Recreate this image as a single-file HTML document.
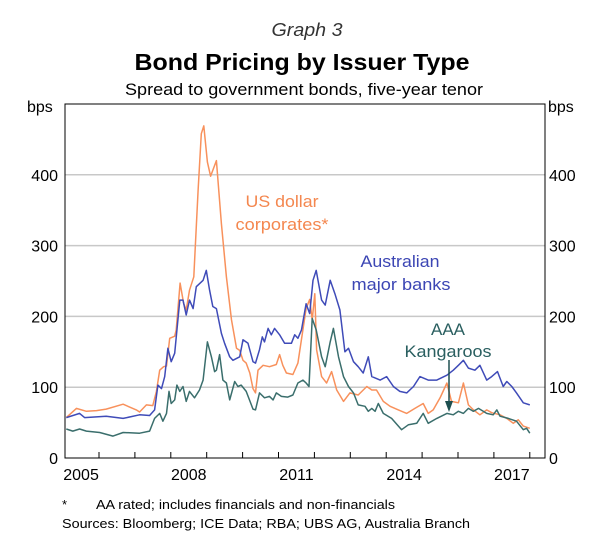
<!DOCTYPE html>
<html><head><meta charset="utf-8">
<style>
html,body{margin:0;padding:0;background:#fff;}
body{width:612px;height:554px;overflow:hidden;font-family:"Liberation Sans",Arial,sans-serif;}
</style></head>
<body>
<svg id="chart" width="612" height="554" xmlns="http://www.w3.org/2000/svg" font-family="Liberation Sans, Arial, sans-serif">
<text x="307" y="36" text-anchor="middle" font-size="18" font-style="italic" fill="#333" textLength="71" lengthAdjust="spacingAndGlyphs">Graph 3</text>
<text x="302" y="70" text-anchor="middle" font-size="23" font-weight="bold" fill="#000" textLength="335" lengthAdjust="spacingAndGlyphs">Bond Pricing by Issuer Type</text>
<text x="304" y="95" text-anchor="middle" font-size="17" fill="#000" textLength="358" lengthAdjust="spacingAndGlyphs">Spread to government bonds, five-year tenor</text>
<g id="grid"></g>
<g id="series"></g>
<rect x="65" y="104" width="480" height="354" fill="none" stroke="#000" stroke-width="1"/>
<g id="axes"></g>
<text x="27" y="112" font-size="16">bps</text>
<text x="548" y="112" font-size="16">bps</text>
<text x="282" y="207" text-anchor="middle" font-size="17" fill="#f4874f" textLength="73" lengthAdjust="spacingAndGlyphs">US dollar</text>
<text x="282" y="230" text-anchor="middle" font-size="17" fill="#f4874f" textLength="93" lengthAdjust="spacingAndGlyphs">corporates*</text>
<text x="400" y="267" text-anchor="middle" font-size="17" fill="#3c46b4" textLength="79" lengthAdjust="spacingAndGlyphs">Australian</text>
<text x="401" y="290" text-anchor="middle" font-size="17" fill="#3c46b4" textLength="99" lengthAdjust="spacingAndGlyphs">major banks</text>
<text x="448" y="335" text-anchor="middle" font-size="17" fill="#2a5f60" textLength="34" lengthAdjust="spacingAndGlyphs">AAA</text>
<text x="448" y="357" text-anchor="middle" font-size="17" fill="#2a5f60" textLength="87" lengthAdjust="spacingAndGlyphs">Kangaroos</text>
<line x1="449" y1="360" x2="449" y2="403" stroke="#1d4f50" stroke-width="1.5"/>
<polygon points="445,401 453,401 449,412" fill="#1d4f50"/>
<text x="62" y="509" font-size="13">*</text>
<text x="96" y="509" font-size="13" textLength="299" lengthAdjust="spacingAndGlyphs">AA rated; includes financials and non-financials</text>
<text x="62" y="528" font-size="13" textLength="408" lengthAdjust="spacingAndGlyphs">Sources:   Bloomberg; ICE Data; RBA; UBS AG, Australia Branch</text>
</svg>
<script>
const yTicks=[0,100,200,300,400];
const yearLabels=[2005,2008,2011,2014,2017];
const usdT=[2005.09,2005.37,2005.65,2005.93,2006.20,2006.67,2007.04,2007.13,2007.32,2007.50,2007.60,2007.69,2007.80,2007.88,2007.97,2008.11,2008.15,2008.26,2008.36,2008.43,2008.52,2008.64,2008.76,2008.85,2008.92,2009.02,2009.11,2009.27,2009.41,2009.55,2009.69,2009.83,2009.92,2010.01,2010.10,2010.20,2010.29,2010.36,2010.43,2010.57,2010.75,2010.94,2011.03,2011.12,2011.22,2011.40,2011.54,2011.77,2011.87,2011.94,2012.01,2012.06,2012.20,2012.34,2012.48,2012.62,2012.81,2012.99,2013.22,2013.46,2013.60,2013.73,2013.92,2014.11,2014.34,2014.57,2014.80,2015.03,2015.17,2015.31,2015.50,2015.69,2015.82,2016.01,2016.15,2016.29,2016.43,2016.61,2016.80,2016.94,2017.17,2017.36,2017.54,2017.68,2017.82,2018.00];
const usdV=[57,70,66,67,69,76,68,65,75,74,94,124,129,130,169,172,181,247,218,209,237,256,378,458,469,418,398,420,331,256,195,155,152,138,134,120,98,92,124,131,129,132,146,131,120,118,134,211,224,195,232,153,115,106,122,96,80,92,89,101,96,96,80,73,68,63,70,77,63,68,85,106,80,78,106,75,68,61,68,64,61,56,49,54,45,42];
const bankT=[2005.09,2005.46,2005.60,2006.20,2006.67,2007.13,2007.41,2007.55,2007.64,2007.74,2007.83,2007.92,2008.01,2008.11,2008.25,2008.34,2008.43,2008.52,2008.62,2008.71,2008.90,2008.99,2009.08,2009.17,2009.27,2009.41,2009.50,2009.64,2009.73,2009.92,2010.01,2010.15,2010.29,2010.36,2010.47,2010.55,2010.61,2010.71,2010.80,2010.89,2011.03,2011.17,2011.36,2011.45,2011.54,2011.64,2011.77,2011.87,2011.96,2012.05,2012.20,2012.30,2012.44,2012.57,2012.71,2012.85,2012.95,2013.09,2013.22,2013.36,2013.50,2013.60,2013.83,2014.01,2014.20,2014.38,2014.57,2014.76,2014.94,2015.17,2015.41,2015.69,2015.87,2016.01,2016.15,2016.29,2016.47,2016.61,2016.80,2016.94,2017.10,2017.26,2017.36,2017.50,2017.63,2017.82,2018.00];
const bankV=[57,63,57,59,56,61,60,68,103,98,115,155,136,148,223,223,202,223,211,242,251,265,237,214,211,176,162,143,138,143,167,162,136,134,153,171,164,183,174,183,174,162,162,174,169,181,218,204,251,265,223,216,251,232,209,150,155,136,129,120,143,115,110,115,101,94,92,101,115,110,110,117,124,131,138,127,124,131,110,115,122,101,108,101,92,78,75];
const kangT=[2005.09,2005.27,2005.46,2005.65,2006.02,2006.39,2006.67,2007.13,2007.41,2007.55,2007.69,2007.78,2007.88,2007.95,2008.01,2008.11,2008.17,2008.25,2008.34,2008.43,2008.52,2008.66,2008.80,2008.90,2009.02,2009.13,2009.22,2009.27,2009.36,2009.45,2009.55,2009.64,2009.78,2009.87,2009.96,2010.10,2010.29,2010.36,2010.47,2010.61,2010.75,2010.85,2010.94,2011.08,2011.26,2011.40,2011.54,2011.68,2011.77,2011.85,2011.94,2012.05,2012.20,2012.30,2012.44,2012.53,2012.67,2012.81,2012.95,2013.09,2013.22,2013.41,2013.50,2013.60,2013.69,2013.78,2013.92,2014.15,2014.43,2014.62,2014.85,2015.03,2015.17,2015.41,2015.69,2015.87,2016.01,2016.15,2016.29,2016.43,2016.57,2016.80,2016.98,2017.08,2017.17,2017.40,2017.63,2017.82,2017.91,2018.00];
const kangV=[41,38,41,38,36,31,36,35,38,56,63,52,63,94,77,82,103,94,101,80,94,85,96,110,164,143,122,124,146,110,106,82,108,101,103,94,69,68,92,85,87,82,92,87,86,89,106,110,106,101,197,181,143,129,164,183,143,115,101,92,75,73,66,70,66,77,63,56,40,47,49,63,49,56,63,61,66,63,70,66,70,63,61,68,59,56,52,40,42,35];

const NS='http://www.w3.org/2000/svg';
const L=65,R=545,T=104,B=458;
function xs(t){return 99+(t-2006)*35.9;}
function ys(v){return B-(v/500)*(B-T);}
const grid=document.getElementById('grid');
const axes=document.getElementById('axes');
const series=document.getElementById('series');
function mk(tag,attrs,parent){const e=document.createElementNS(NS,tag);for(const k in attrs)e.setAttribute(k,attrs[k]);parent.appendChild(e);return e;}
yTicks.forEach(v=>{
  if(v>0){
    const g=mk('line',{x1:L,x2:R,y1:ys(v),y2:ys(v),stroke:'#c8c8c8','stroke-width':1.5},grid);
    
    
  }
  const a=mk('text',{x:58,y:ys(v)+6,'text-anchor':'end','font-size':16},axes);a.textContent=v;
  
  
  const b=mk('text',{x:549,y:ys(v)+6,'font-size':16},axes);b.textContent=v;
  
  
});
for(let yr=2006;yr<=2018;yr++){
  const t=mk('line',{x1:xs(yr),x2:xs(yr),y1:B,y2:B-6,stroke:'#000'},axes);
  
  
}
yearLabels.forEach(yr=>{
  const t=mk('text',{x:xs(yr+0.5),y:480,'text-anchor':'middle','font-size':16},axes);t.textContent=yr;
  
  
});
function line(T_,V,color,name){
  const d=T_.map((t,i)=>(i?'L':'M')+xs(t).toFixed(1)+' '+ys(V[i]).toFixed(1)).join(' ');
  const p=mk('path',{d:d,fill:'none',stroke:color,'stroke-width':1.5,'stroke-linejoin':'round'},series);
  
  
}
line(usdT,usdV,'#f8915c','line-us-dollar-corporates');
line(bankT,bankV,'#3f4bb8','line-australian-major-banks');
line(kangT,kangV,'#3a6e6c','line-aaa-kangaroos');
</script>
</body></html>
